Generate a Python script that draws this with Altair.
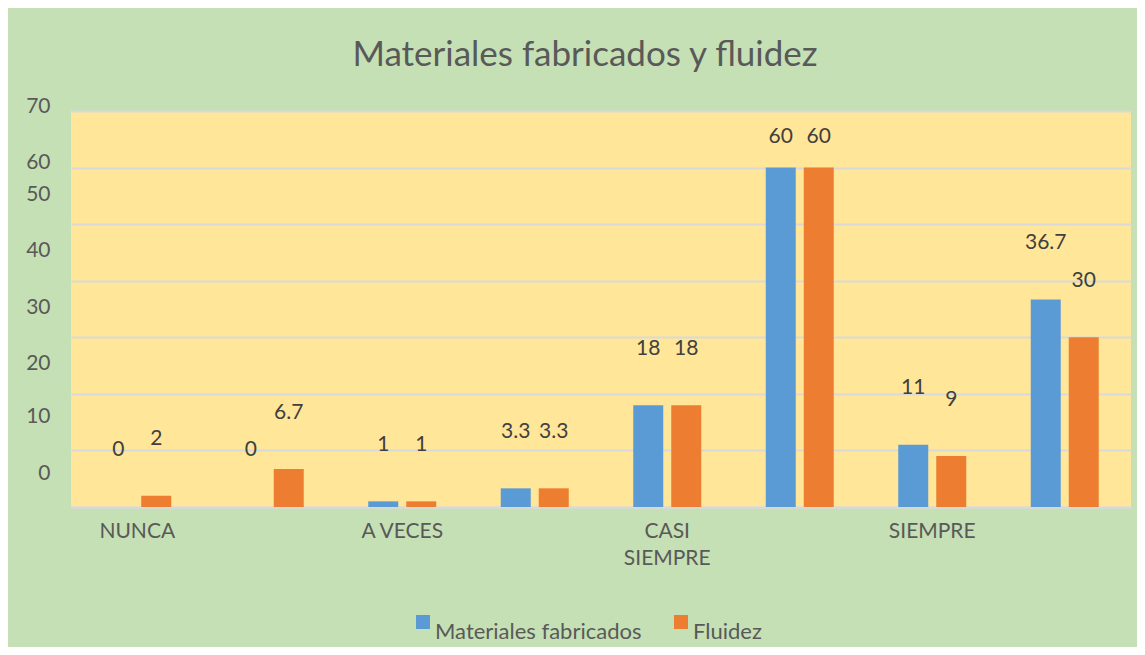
import json
import altair as alt
import pandas as pd

groups = [0, 1, 2, 3, 4, 5, 6, 7]
group_label_lines = [["NUNCA"], [""], ["A VECES"], [""], ["CASI", "SIEMPRE"], [""], ["SIEMPRE"], [""]]
series = ["Materiales fabricados", "Fluidez"]
materiales = [0, 0, 1, 3.3, 18, 60, 11, 36.7]
fluidez = [2, 6.7, 1, 3.3, 18, 60, 9, 30]
y_ticks = [0, 10, 20, 30, 40, 50, 60, 70]
colors = ["#5B9BD5", "#ED7D31"]

rows = []
for g, m, f in zip(groups, materiales, fluidez):
    rows.append({"group": g, "serie": series[0], "value": m})
    rows.append({"group": g, "serie": series[1], "value": f})
df = pd.DataFrame(rows)

FONT = "Lato"
GRAY = "#595959"

label_expr = json.dumps(group_label_lines) + "[datum.value]"

x_enc = alt.X(
    "group:O",
    title=None,
    scale=alt.Scale(paddingInner=0.4868, paddingOuter=0.2434),
    axis=alt.Axis(
        labelExpr=label_expr,
        labelAngle=0,
        labelFont=FONT,
        labelFontSize=21,
        labelColor=GRAY,
        labelPadding=13,
        labelLineHeight=27,
        labelBaseline="top",
        ticks=False,
        tickSize=0,
        domainColor="#D9D9D9",
        domainWidth=2,
        grid=False,
    ),
)
xoff_enc = alt.XOffset("serie:N", sort=series, scale=alt.Scale(domain=series, paddingInner=0.2105))

y_scale = alt.Scale(domain=[0, 70], nice=False)

bars = alt.Chart(df).mark_bar().encode(
    x=x_enc,
    xOffset=xoff_enc,
    y=alt.Y(
        "value:Q",
        title=None,
        scale=y_scale,
        axis=alt.Axis(
            values=y_ticks,
            labelFont=FONT,
            labelFontSize=21,
            labelColor=GRAY,
            labelPadding=21,
            labelOverlap=False,
            labelOffset={
                "condition": [
                    {"test": "datum.value >= 60", "value": -5},
                    {"test": "datum.value <= 10", "value": -34},
                ],
                "value": -30,
            },
            ticks=False,
            tickSize=0,
            domain=False,
            gridColor="#D9D9D9",
            gridWidth=2,
        ),
    ),
    color=alt.Color(
        "serie:N",
        sort=series,
        scale=alt.Scale(domain=series, range=colors),
        legend=alt.Legend(
            title=None,
            orient="none",
            direction="horizontal",
            legendX=341,
            legendY=500,
            symbolType="square",
            symbolSize=196,
            symbolStrokeWidth=0,
            labelFont=FONT,
            labelFontSize=22,
            labelColor=GRAY,
            labelBaseline="top",
            labelOffset=1,
            labelLimit=400,
            columnPadding=28,
        ),
    ),
)

labels = alt.Chart(df).transform_calculate(
    label_y="min(datum.value + 10, 65.4)"
).mark_text(font=FONT, fontSize=21, color="#404040", baseline="middle").encode(
    x=x_enc,
    xOffset=xoff_enc,
    y=alt.Y("label_y:Q", scale=y_scale),
    text=alt.Text("value:Q", format=".1~f"),
)

chart = alt.layer(bars, labels).properties(
    width=1060,
    height=396,
    autosize="none",
    padding={"left": 63, "top": 103, "right": 6, "bottom": 140},
    background="#C5E0B4",
    title=alt.TitleParams(
        "Materiales fabricados y fluidez",
        font=FONT,
        fontSize=35,
        fontWeight="normal",
        color=GRAY,
        anchor="middle",
        offset=22,
        dx=-16,
    ),
).configure_view(fill="#FFE699", stroke=None)

chart.save("out.html", embed_options={"renderer": "svg", "actions": False})
